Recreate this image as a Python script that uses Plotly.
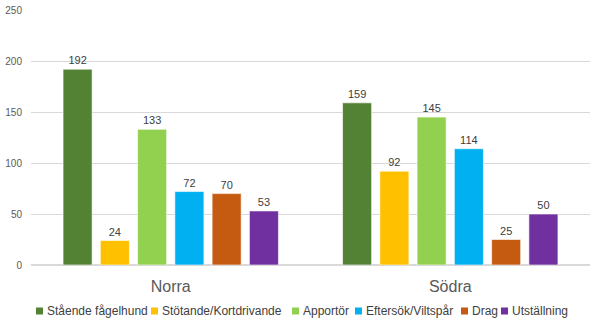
import plotly.graph_objects as go

categories = ["Norra", "Södra"]
series_names = ["Stående fågelhund", "Stötande/Kortdrivande", "Apportör",
                "Eftersök/Viltspår", "Drag", "Utställning"]
values_norra = [192, 24, 133, 72, 70, 53]
values_sodra = [159, 92, 145, 114, 25, 50]
colors = ["#548235", "#FFC000", "#92D050", "#00B0F0", "#C55A11", "#7030A0"]
y_ticks = [0, 50, 100, 150, 200, 250]

# legend marker left positions in pixels (layout only)
legend_px = [36, 151, 292, 355, 461, 501]

FONT = "Liberation Sans"
W, H = 600, 328
ML, MR, MT, MB = 31, 10, 10, 63
PW = W - ML - MR
PH = H - MT - MB

fig = go.Figure()
for i, name in enumerate(series_names):
    vals = [values_norra[i], values_sodra[i]]
    fig.add_trace(go.Bar(
        x=categories, y=vals, name=name,
        marker=dict(color=colors[i], line=dict(color="rgba(255,255,255,0.6)", width=1)),
        text=[str(v) for v in vals], textposition="outside",
        textfont=dict(size=11, color="#404040", family=FONT),
        cliponaxis=False,
    ))

legend_y = (H - MB - 311) / PH
for i, name in enumerate(series_names):
    xm = (legend_px[i] + 3.5 - ML) / PW
    fig.add_shape(type="rect", xref="paper", yref="paper",
                  xsizemode="pixel", ysizemode="pixel",
                  xanchor=xm, yanchor=legend_y,
                  x0=-3.5, x1=3.5, y0=-3.5, y1=3.5,
                  fillcolor=colors[i], line=dict(width=0))
    fig.add_annotation(xref="paper", yref="paper",
                       x=(legend_px[i] + 9 - ML) / PW, y=legend_y,
                       xanchor="left", yanchor="middle", showarrow=False,
                       text=name, font=dict(size=12, color="#404040", family=FONT))

fig.update_layout(
    width=W, height=H,
    margin=dict(l=ML, r=MR, t=MT, b=MB, autoexpand=False),
    paper_bgcolor="white", plot_bgcolor="white",
    barmode="group", bargap=0.2, bargroupgap=0.22,
    font=dict(family=FONT, color="#595959"),
    showlegend=False,
)
fig.update_xaxes(showgrid=False, showline=False, ticks="",
                 tickfont=dict(size=16, color="#595959", family=FONT),
                 ticklabelstandoff=10)
fig.update_yaxes(range=[0, 250], tickvals=y_ticks, showgrid=True, gridcolor="#D9D9D9",
                 gridwidth=1, zeroline=True, zerolinecolor="#D9D9D9", showline=False,
                 tickfont=dict(size=10, color="#595959", family=FONT), ticklabelstandoff=8)

fig.write_html("out.html")
